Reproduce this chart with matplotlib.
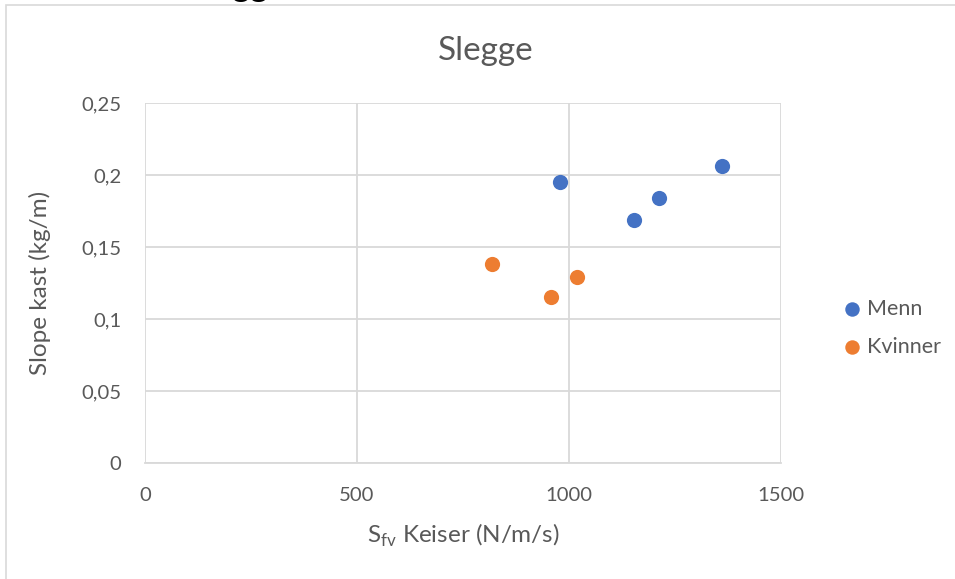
# Slegge: Sfv Keiser mot slope kast, menn og kvinner
import matplotlib
matplotlib.use('Agg')
import matplotlib.pyplot as plt
from matplotlib.patches import Rectangle
from matplotlib.ticker import FuncFormatter

matplotlib.rc('font', family=['Lato', 'DejaVu Sans'])

menn_x = [978, 1361, 1212, 1154]
menn_y = [0.195, 0.206, 0.184, 0.169]
kvinner_x = [818, 957, 1019]
kvinner_y = [0.138, 0.115, 0.129]

xticks = [0, 500, 1000, 1500]
yticks = [0, 0.05, 0.1, 0.15, 0.2, 0.25]

blaa = '#4472C4'
oransje = '#ED7D31'
tekst = '#595959'
grid = '#D9D9D9'

W, H = 955, 579
fig = plt.figure(figsize=(W / 100, H / 100), dpi=100)

# ramme rundt diagrammet (skjært av til høyre og nede)
fig.patches.append(Rectangle((6 / W, -0.1), 1.2, 1.1 - 5 / H,
                             transform=fig.transFigure, fill=False,
                             edgecolor=grid, lw=1.2, zorder=0))
# overskrift over diagrammet, bare nedre del synes
fig.text(188 / W, 1 + 3 / H, 'Slegge', fontsize=24, fontweight='bold',
         color='black', ha='left', va='baseline')

ax = fig.add_axes([145 / W, 1 - 463 / H, 636 / W, 360 / H])
ax.scatter(menn_x, menn_y, s=120, color=blaa, label='Menn', zorder=3, linewidths=0)
ax.scatter(kvinner_x, kvinner_y, s=120, color=oransje, label='Kvinner', zorder=3, linewidths=0)

ax.set_xlim(0, 1500)
ax.set_ylim(0, 0.25)
ax.set_xticks(xticks)
ax.set_yticks(yticks)
ax.yaxis.set_major_formatter(FuncFormatter(lambda v, p: ('%g' % round(v, 2)).replace('.', ',')))
ax.grid(color=grid, lw=1.3)
ax.set_axisbelow(True)
for s in ax.spines.values():
    s.set_visible(False)
ax.spines['bottom'].set_visible(True)
ax.spines['bottom'].set_color(grid)
ax.spines['bottom'].set_linewidth(1.3)
ax.tick_params(length=0, labelsize=14.6, colors=tekst)
ax.tick_params(axis='y', pad=17)
ax.tick_params(axis='x', pad=17)

# tittel midt på hele diagramflaten
fig.text(486 / W, 1 - 60 / H, 'Slegge', fontsize=24, color=tekst,
         ha='center', va='baseline')
ax.set_xlabel('S$_{\\mathregular{fv}}$ Keiser (N/m/s)', fontsize=17.5, color=tekst, labelpad=13)
ax.set_ylabel('Slope kast (kg/m)', fontsize=17.5, color=tekst, va='center')
ax.yaxis.set_label_coords(-0.165, 0.5)

fig.legend(loc='center left', bbox_to_anchor=(841 / W, 1 - 328 / H), frameon=False,
           fontsize=15.5, labelcolor=tekst, handlelength=1.0, handletextpad=0.2,
           labelspacing=0.85, borderpad=0, borderaxespad=0, markerscale=0.95)

fig.savefig('out.png', dpi=100)
